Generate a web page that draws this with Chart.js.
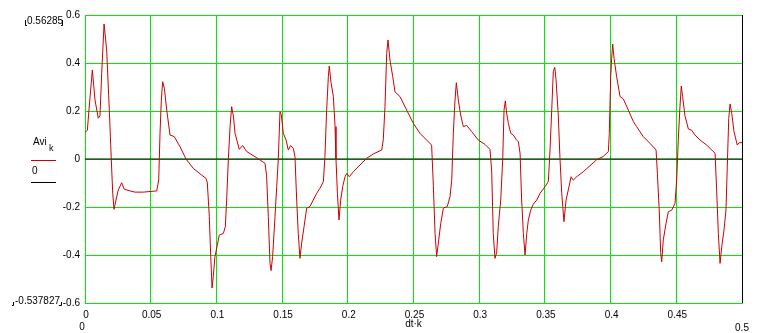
<!DOCTYPE html>
<html>
<head>
<meta charset="utf-8">
<script src="https://cdn.jsdelivr.net/npm/chart.js@4.4.1/dist/chart.umd.min.js"></script>
<style>
  body { margin: 0; background: #fff; }
  canvas { display: block; }
</style>
</head>
<body>
<canvas id="plot" width="767" height="333"></canvas>
<script>
// time axis (dt*k) and signal Avi_k
const dtk = [0, 0.0018, 0.003, 0.0056, 0.0076, 0.0101, 0.0114, 0.0127, 0.0145, 0.0165, 0.0185, 0.02, 0.0211, 0.0221, 0.0236, 0.0253, 0.0279, 0.0299, 0.0342, 0.038, 0.0444, 0.0546, 0.0561, 0.0571, 0.0581, 0.0591, 0.0604, 0.0622, 0.0647, 0.068, 0.0723, 0.0769, 0.0824, 0.0888, 0.0921, 0.0931, 0.0946, 0.0957, 0.0967, 0.0976, 0.0989, 0.1007, 0.1022, 0.1053, 0.1068, 0.1078, 0.1091, 0.1104, 0.1116, 0.1129, 0.1142, 0.1174, 0.12, 0.1231, 0.1307, 0.137, 0.1382, 0.1395, 0.1408, 0.1416, 0.1428, 0.1446, 0.1459, 0.1471, 0.1484, 0.1494, 0.1509, 0.153, 0.1547, 0.1565, 0.1585, 0.1598, 0.1611, 0.1623, 0.1636, 0.1649, 0.1667, 0.1687, 0.1712, 0.1737, 0.1763, 0.1788, 0.1814, 0.1826, 0.1839, 0.1852, 0.1859, 0.1872, 0.189, 0.1903, 0.191, 0.1921, 0.1933, 0.1946, 0.1961, 0.1979, 0.1992, 0.2011, 0.2042, 0.2093, 0.2144, 0.2194, 0.2258, 0.227, 0.2283, 0.2296, 0.2306, 0.2321, 0.2342, 0.2359, 0.2397, 0.2448, 0.2498, 0.2549, 0.26, 0.2638, 0.2651, 0.2664, 0.2676, 0.2689, 0.2707, 0.2727, 0.2757, 0.2778, 0.2791, 0.2803, 0.2816, 0.2826, 0.2841, 0.2859, 0.2879, 0.2905, 0.2943, 0.2993, 0.3044, 0.3082, 0.3095, 0.3107, 0.312, 0.3133, 0.3145, 0.3164, 0.3179, 0.3189, 0.3199, 0.3209, 0.3222, 0.324, 0.326, 0.328, 0.3298, 0.3311, 0.3323, 0.3336, 0.3349, 0.3362, 0.3374, 0.3392, 0.3412, 0.3438, 0.3463, 0.3501, 0.3526, 0.3539, 0.3552, 0.3564, 0.3575, 0.3585, 0.3602, 0.3615, 0.3628, 0.3645, 0.3661, 0.3678, 0.3699, 0.3716, 0.3742, 0.3792, 0.3843, 0.3894, 0.3945, 0.3983, 0.399, 0.4001, 0.4008, 0.4016, 0.4026, 0.4046, 0.4072, 0.4097, 0.4135, 0.4173, 0.4198, 0.4249, 0.43, 0.4346, 0.4356, 0.4371, 0.4381, 0.4389, 0.4401, 0.4422, 0.4439, 0.4465, 0.449, 0.4503, 0.4515, 0.4528, 0.4538, 0.4548, 0.4566, 0.4592, 0.4617, 0.4642, 0.4681, 0.4731, 0.4795, 0.4807, 0.482, 0.4833, 0.4846, 0.4863, 0.4878, 0.4888, 0.4899, 0.4909, 0.4922, 0.4939, 0.4964, 0.4979, 0.5];
const avi = [0.11, 0.12, 0.204, 0.371, 0.246, 0.17, 0.18, 0.357, 0.5628, 0.454, 0.204, 0, -0.143, -0.21, -0.171, -0.129, -0.099, -0.126, -0.133, -0.138, -0.138, -0.133, -0.0875, 0.107, 0.246, 0.322, 0.294, 0.204, 0.1, 0.093, 0.051, 0, -0.039, -0.067, -0.081, -0.1, -0.24, -0.407, -0.5378, -0.49, -0.407, -0.358, -0.317, -0.31, -0.282, -0.171, 0, 0.135, 0.218, 0.18, 0.107, 0.04, 0.056, 0.031, 0.005, -0.018, -0.07, -0.24, -0.435, -0.465, -0.407, -0.24, -0.115, 0, 0.197, 0.185, 0.107, 0.08, 0.0375, 0.056, 0.045, 0.01, -0.171, -0.31, -0.414, -0.35, -0.282, -0.205, -0.198, -0.171, -0.143, -0.122, -0.094, 0.01, 0.204, 0.343, 0.3875, 0.32, 0.26, 0.135, 0, -0.143, -0.254, -0.171, -0.115, -0.074, -0.06, -0.074, -0.053, -0.025, 0.003, 0.021, 0.0375, 0.08, 0.218, 0.44, 0.496, 0.4125, 0.343, 0.28, 0.26, 0.204, 0.149, 0.107, 0.079, 0.058, -0.11, -0.31, -0.407, -0.35, -0.27, -0.205, -0.198, -0.157, -0.087, 0.107, 0.246, 0.318, 0.246, 0.183, 0.135, 0.14, 0.114, 0.079, 0.061, 0.04, -0.05, -0.31, -0.414, -0.39, -0.282, -0.171, 0, 0.204, 0.242, 0.19, 0.149, 0.107, 0.1, 0.082, 0.072, 0.024, -0.171, -0.31, -0.4, -0.31, -0.254, -0.213, -0.188, -0.171, -0.143, -0.115, -0.094, 0.0375, 0.204, 0.364, 0.382, 0.33, 0.18, 0, -0.143, -0.261, -0.171, -0.129, -0.074, -0.088, -0.074, -0.053, -0.028, -0.003, 0.011, 0.031, 0.107, 0.343, 0.42, 0.479, 0.42, 0.343, 0.26, 0.25, 0.204, 0.156, 0.135, 0.093, 0.065, 0.0375, -0.06, -0.225, -0.39, -0.428, -0.337, -0.268, -0.22, -0.213, -0.185, -0.088, 0.08, 0.218, 0.304, 0.26, 0.18, 0.125, 0.12, 0.1, 0.079, 0.058, 0.024, -0.129, -0.31, -0.435, -0.365, -0.296, -0.213, -0.03, 0.168, 0.229, 0.19, 0.114, 0.058, 0.068, 0.068];

// second trace: the constant 0
const zeroT = [0, 0.5];
const zeroV = [0, 0];

// axis ranges and marker texts
const xRange = [0, 0.5];
const yRange = [-0.6, 0.6];
const xStep = 0.05;
const yStep = 0.2;
const yMaxText = "0.56285";
const yMinText = "-0.537827";

const green = "rgb(0,235,0)";
const FONT = "10px 'Liberation Sans', Arial, sans-serif";

Chart.defaults.font.family = "'Liberation Sans', Arial, sans-serif";
Chart.defaults.font.size = 10;
Chart.defaults.color = "#000";

// extra Mathcad-like annotations (legend, range labels, axis name)
const extras = {
    id: "extras",
    afterDraw(chart) {
        const c = chart.ctx;
        const area = chart.chartArea;
        c.save();
        c.fillStyle = "#000";
        c.font = FONT;
        c.textBaseline = "middle";

        // max / min markers at the left
        c.textAlign = "left";
        c.fillText(yMaxText, 27, 21);
        c.fillText(yMinText, 15, 301);
        c.strokeStyle = "#000";
        c.lineWidth = 1;
        c.beginPath();
        c.moveTo(25.5, 20); c.lineTo(25.5, 25.5); c.lineTo(27, 25.5);
        c.moveTo(61, 25.5); c.lineTo(62.5, 25.5); c.lineTo(62.5, 20);
        c.moveTo(12, 305.5); c.lineTo(13.5, 305.5); c.lineTo(13.5, 302);
        c.moveTo(59, 305.5); c.lineTo(61.5, 305.5); c.lineTo(61.5, 302);
        c.stroke();

        // legend
        c.fillText("Avi", 33, 142);
        c.font = "9px 'Liberation Sans', Arial, sans-serif";
        c.fillText("k", 49, 149);
        c.font = FONT;
        c.strokeStyle = "#cc0000";
        c.beginPath(); c.moveTo(31, 160.5); c.lineTo(56, 160.5); c.stroke();
        c.fillText("0", 32, 171);
        c.strokeStyle = "#000";
        c.beginPath(); c.moveTo(31, 182.5); c.lineTo(56, 182.5); c.stroke();

        // range labels below the x ticks and the axis name
        c.textAlign = "center";
        c.fillText(String(xRange[0]), area.left - 3, 327);
        c.fillText(String(xRange[1]), area.right, 328);
        c.fillText("dt\u00b7k", (area.left + area.right) / 2, 324);
        c.restore();
    }
};

const chart = new Chart(document.getElementById("plot").getContext("2d"), {
    type: "line",
    data: {
        datasets: [
            {
                data: dtk.map((t, i) => ({ x: t, y: avi[i] })),
                borderColor: "#cc0000",
                borderWidth: 1,
                pointRadius: 0,
                tension: 0
            },
            {
                data: zeroT.map((t, i) => ({ x: t, y: zeroV[i] })),
                borderColor: "#000",
                borderWidth: 1,
                pointRadius: 0
            }
        ]
    },
    options: {
        responsive: false,
        animation: false,
        layout: { padding: { top: 15, right: 25, left: 0, bottom: 0 } },
        plugins: { legend: { display: false }, tooltip: { enabled: false } },
        scales: {
            x: {
                type: "linear",
                min: xRange[0],
                max: xRange[1],
                afterFit(s) { s.height = 30; },
                border: { display: true, color: green },
                grid: {
                    drawTicks: false,
                    color: ctx => (ctx.tick && ctx.tick.value >= xRange[1] - 1e-9 ? "#000" : green)
                },
                ticks: {
                    stepSize: xStep,
                    padding: 6,
                    maxRotation: 0,
                    autoSkip: false,
                    labelOffset: 1,
                    callback: v => (v >= xRange[1] - 1e-9 ? "" : Math.round(v * 100) / 100)
                }
            },
            y: {
                min: yRange[0],
                max: yRange[1],
                afterFit(s) { s.width = 85; },
                border: { display: true, color: green },
                grid: { drawTicks: false, color: green },
                ticks: {
                    stepSize: yStep,
                    padding: 5,
                    autoSkip: false,
                    callback: v => Math.round(v * 10) / 10
                }
            }
        }
    },
    plugins: [extras]
});
</script>
</body>
</html>
